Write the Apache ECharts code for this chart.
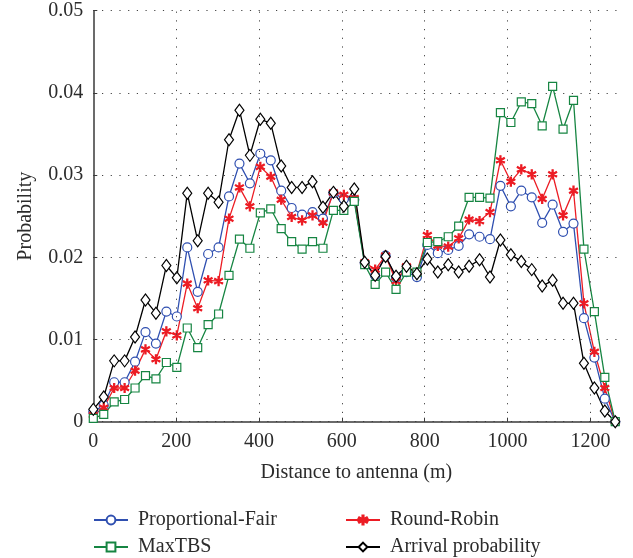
<!DOCTYPE html>
<html><head><meta charset="utf-8">
<script src="https://cdn.jsdelivr.net/npm/echarts@6/dist/echarts.min.js"></script>
<style>html,body{margin:0;padding:0;background:#fff}#c{width:633px;height:558px}</style>
</head><body><div id="c"></div>
<script>
const distance = [0, 25.2, 50.4, 75.6, 100.8, 126, 151.2, 176.4, 201.6, 226.8, 252, 277.2, 302.4, 327.6, 352.8, 378, 403.2, 428.4, 453.6, 478.8, 504, 529.2, 554.4, 579.6, 604.8, 630, 655.2, 680.4, 705.6, 730.8, 756, 781.2, 806.4, 831.6, 856.8, 882, 907.2, 932.4, 957.6, 982.8, 1008, 1033.2, 1058.4, 1083.6, 1108.8, 1134, 1159.2, 1184.4, 1209.6, 1234.8, 1260];
const proportionalFair = [0.0012,0.0020,0.0048,0.0048,0.0073,0.0109,0.0095,0.0134,0.0128,0.0212,0.0158,0.0204,0.0212,0.0274,0.0314,0.0290,0.0326,0.0318,0.0281,0.0260,0.0252,0.0255,0.0247,0.0278,0.0271,0.0270,0.0193,0.0178,0.0202,0.0175,0.0182,0.0176,0.0215,0.0205,0.0209,0.0214,0.0228,0.0225,0.0222,0.0287,0.0262,0.0281,0.0273,0.0242,0.0264,0.0231,0.0241,0.0126,0.0078,0.0028,0.0000];
const roundRobin = [0.0008,0.0017,0.0041,0.0041,0.0062,0.0088,0.0076,0.0110,0.0105,0.0168,0.0138,0.0172,0.0171,0.0247,0.0285,0.0262,0.0310,0.0298,0.0270,0.0249,0.0245,0.0251,0.0242,0.0279,0.0276,0.0272,0.0194,0.0185,0.0202,0.0171,0.0189,0.0181,0.0227,0.0214,0.0213,0.0223,0.0246,0.0244,0.0255,0.0318,0.0292,0.0307,0.0301,0.0271,0.0301,0.0251,0.0281,0.0144,0.0085,0.0041,0.0000];
const maxTBS = [0.0004,0.0009,0.0024,0.0027,0.0041,0.0056,0.0052,0.0072,0.0066,0.0114,0.0090,0.0118,0.0131,0.0178,0.0222,0.0211,0.0254,0.0259,0.0235,0.0219,0.0210,0.0219,0.0211,0.0257,0.0257,0.0268,0.0191,0.0167,0.0182,0.0161,0.0182,0.0182,0.0218,0.0219,0.0225,0.0238,0.0273,0.0273,0.0272,0.0376,0.0364,0.0389,0.0387,0.0360,0.0408,0.0356,0.0391,0.0210,0.0134,0.0054,0.0000];
const arrival = [0.0015,0.0030,0.0074,0.0074,0.0103,0.0148,0.0132,0.0190,0.0175,0.0278,0.0220,0.0278,0.0267,0.0343,0.0379,0.0324,0.0368,0.0363,0.0311,0.0285,0.0285,0.0292,0.0261,0.0279,0.0262,0.0283,0.0194,0.0178,0.0201,0.0177,0.0189,0.0180,0.0198,0.0182,0.0191,0.0182,0.0189,0.0197,0.0176,0.0221,0.0203,0.0195,0.0185,0.0165,0.0172,0.0144,0.0144,0.0071,0.0041,0.0013,0.0000];
const xTicks = [0, 200, 400, 600, 800, 1000, 1200];
const seriesNames = ['Proportional-Fair', 'Round-Robin', 'MaxTBS', 'Arrival probability'];

const FONT = "'Liberation Serif', 'DejaVu Serif', serif";
const FS = 20;
const TXT = '#2b2b2b';
const AX = '#3a3a3a';
const C = {pf:'#2f4fb0', rr:'#ec1c24', mt:'#168542', ar:'#000000'};
const STAR = 'path://M-1.2,-10L1.2,-10L1.2,10L-1.2,10Z M8.06,6.04L9.26,3.96L-8.06,-6.04L-9.26,-3.96Z M-9.26,3.96L-8.06,6.04L9.26,-3.96L8.06,-6.04Z';

function pairs(v){ return distance.map((d,i)=>[d, v[i]]); }
function mk(name, data, color, symbol, size, fill){
  return {
    name, type:'line', data: pairs(data), symbol, symbolSize:size, symbolKeepAspect:true,
    showAllSymbol:true, animation:false,
    lineStyle:{color, width:1.3},
    itemStyle:{color: fill, borderColor:color, borderWidth:1.2},
    z: 3
  };
}
const series = [
  mk(seriesNames[0], proportionalFair, C.pf, 'circle', 9, '#fff'),
  mk(seriesNames[1], roundRobin, C.rr, STAR, 9, C.rr),
  mk(seriesNames[2], maxTBS, C.mt, 'rect', 8, '#fff'),
  mk(seriesNames[3], arrival, C.ar, 'diamond', [9,12], '#fff')
];
series[0].markLine = {
  silent:true, symbol:'none', label:{show:false}, animation:false,
  lineStyle:{color:'#444', type:[1.2,7.5], width:1},
  data: xTicks.filter(v=>v>0).map(v=>({xAxis:v}))
};

function lg(name, left, top){
  return {
    data:[name], left, top, orient:'horizontal', padding:0,
    itemWidth:34, itemHeight:11, itemGap:0,
    textStyle:{fontFamily:FONT, fontSize:FS, color:TXT, padding:[0,0,0,5]}
  };
}
const chart = echarts.init(document.getElementById('c'), null, {renderer:'canvas'});
chart.setOption({
  animation:false,
  backgroundColor:'#fff',
  grid:{left:93.3, right:13.6, top:10.7, bottom:136.3, containLabel:false},
  xAxis:{
    type:'value', min:0, max:1270, interval:200,
    name:'Distance to antenna (m)', nameLocation:'middle', nameGap:41,
    nameTextStyle:{fontFamily:FONT, fontSize:FS, color:TXT},
    axisLine:{lineStyle:{color:AX, width:1.5}},
    axisTick:{inside:true, length:4, lineStyle:{color:AX}, customValues: xTicks},
    axisLabel:{fontFamily:FONT, fontSize:FS, color:TXT, margin:10, customValues: xTicks, formatter: v => String(v)},
    splitLine:{show:false}
  },
  yAxis:{
    type:'value', min:0, max:0.05, interval:0.01,
    name:'Probability', nameLocation:'middle', nameGap:58,
    nameTextStyle:{fontFamily:FONT, fontSize:FS, color:TXT},
    axisLine:{show:true, lineStyle:{color:AX, width:1.5}},
    axisTick:{show:true, inside:true, length:4, lineStyle:{color:AX}},
    axisLabel:{fontFamily:FONT, fontSize:FS, color:TXT, margin:10, formatter: v => String(+v.toFixed(2))},
    splitLine:{show:true, lineStyle:{color:'#444', type:[1.2,7.5], width:1}}
  },
  legend:[
    lg(seriesNames[0], 93, 510),
    lg(seriesNames[1], 345, 510),
    lg(seriesNames[2], 93, 537),
    lg(seriesNames[3], 345, 537)
  ],
  series
});
</script></body></html>
